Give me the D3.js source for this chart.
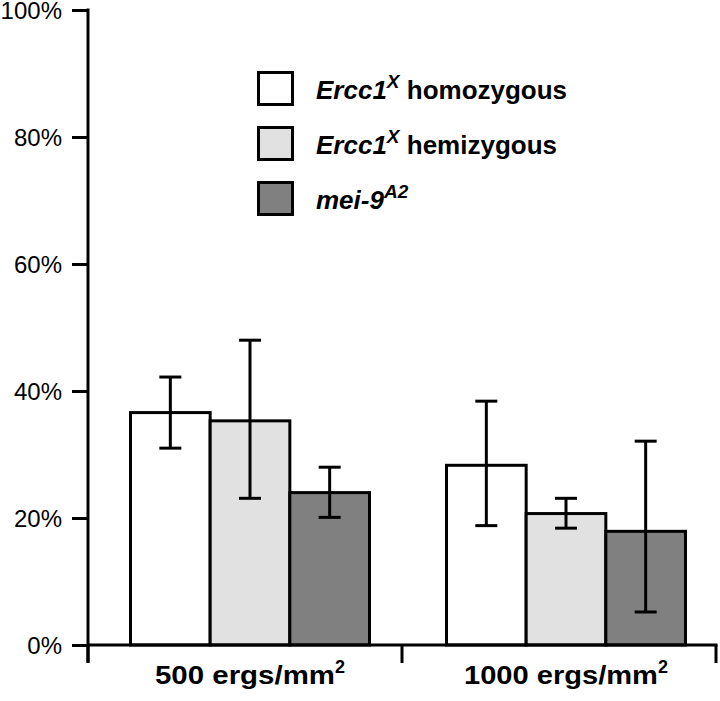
<!DOCTYPE html>
<html><head><meta charset="utf-8">
<script src="https://cdn.jsdelivr.net/npm/d3@7"></script>
<style>body{margin:0;background:#fff}</style>
</head><body>
<svg id="c" width="720" height="701"></svg>
<script>
const categories = ["500", "1000"];
const seriesNames = ["homozygous", "hemizygous", "mei9"];
const seriesColors = ["#ffffff", "#e1e1e1", "#808080"];
const homozygous = [36.6, 28.3];
const homozygousLo = [31.0, 18.8];
const homozygousHi = [42.2, 38.4];
const hemizygous = [35.3, 20.7];
const hemizygousLo = [23.1, 18.4];
const hemizygousHi = [48.0, 23.1];
const mei9 = [24.0, 17.9];
const mei9Lo = [20.1, 5.2];
const mei9Hi = [28.0, 32.1];
const yTicks = [0, 20, 40, 60, 80, 100];

const series = [
  {v: homozygous, lo: homozygousLo, hi: homozygousHi},
  {v: hemizygous, lo: hemizygousLo, hi: hemizygousHi},
  {v: mei9, lo: mei9Lo, hi: mei9Hi}
];

const svg = d3.select("#c");
const y = d3.scaleLinear().domain([0, 100]).range([645, 10]);
const x0 = d3.scaleBand().domain(categories).range([88, 716]);
const groupW = 239;
const x1 = d3.scaleBand().domain(seriesNames).range([0, groupW]);
const groupX = c => x0(c) + (x0.bandwidth() - groupW) / 2 + (c === categories[0] ? 5 : 7);

// bars
categories.forEach((c, ci) => {
  const gx = groupX(c);
  series.forEach((s, si) => {
    const bx = gx + x1(seriesNames[si]);
    svg.append("rect")
      .attr("x", bx).attr("y", y(s.v[ci]))
      .attr("width", x1.bandwidth()).attr("height", y(0) - y(s.v[ci]))
      .attr("fill", seriesColors[si]).attr("stroke", "#000").attr("stroke-width", 3);
  });
});
// error bars
categories.forEach((c, ci) => {
  const gx = groupX(c);
  series.forEach((s, si) => {
    const cx = gx + x1(seriesNames[si]) + x1.bandwidth() / 2;
    const g = svg.append("g").attr("stroke", "#000").attr("stroke-width", 3);
    g.append("line").attr("x1", cx).attr("x2", cx).attr("y1", y(s.hi[ci])).attr("y2", y(s.lo[ci]));
    g.append("line").attr("x1", cx - 11).attr("x2", cx + 11).attr("y1", y(s.hi[ci])).attr("y2", y(s.hi[ci]));
    g.append("line").attr("x1", cx - 11).attr("x2", cx + 11).attr("y1", y(s.lo[ci])).attr("y2", y(s.lo[ci]));
  });
});

// y axis
const yAxis = svg.append("g").attr("transform", "translate(88,0)")
  .call(d3.axisLeft(y).tickValues(yTicks).tickSize(16).tickPadding(10).tickFormat(d => d + "%"));
yAxis.select(".domain").remove();
yAxis.selectAll(".tick line").attr("stroke", "#000").attr("stroke-width", 3);
yAxis.selectAll(".tick text").attr("font-family", "Liberation Sans, Arial, sans-serif")
  .attr("font-size", 24).attr("fill", "#000").attr("dy", "0.36em");
svg.append("line").attr("x1", 88).attr("x2", 88).attr("y1", 8.5).attr("y2", 663)
  .attr("stroke", "#000").attr("stroke-width", 3);

// x axis
svg.append("line").attr("x1", 88).attr("x2", 717.5).attr("y1", y(0)).attr("y2", y(0))
  .attr("stroke", "#000").attr("stroke-width", 3);
const xb = categories.map(c => x0(c)).concat([x0.range()[1]]);
xb.forEach(v => svg.append("line").attr("x1", v).attr("x2", v).attr("y1", y(0)).attr("y2", 663)
  .attr("stroke", "#000").attr("stroke-width", 3));

// x labels
categories.forEach(c => {
  const t = svg.append("text")
    .attr("x", groupX(c) + groupW / 2).attr("y", 684)
    .attr("text-anchor", "middle")
    .attr("font-family", "Liberation Sans Narrow, Arial Narrow, Liberation Sans, sans-serif")
    .attr("font-weight", "bold").attr("font-size", 26).attr("fill", "#000");
  t.append("tspan").text(c + " ergs/mm")
    .attr("textLength", c.length === 3 ? 180 : 194).attr("lengthAdjust", "spacingAndGlyphs");
  t.append("tspan").attr("dy", -11).attr("font-size", 18).text("2");
});

// legend
const legendItems = [
  {main: "Ercc1", sup: "X", rest: " homozygous"},
  {main: "Ercc1", sup: "X", rest: " hemizygous"},
  {main: "mei-9", sup: "A2", rest: ""}
];
legendItems.forEach((it, i) => {
  const ly = 72.5 + i * 55;
  svg.append("rect").attr("x", 258.5).attr("y", ly).attr("width", 34).attr("height", 32)
    .attr("fill", seriesColors[i]).attr("stroke", "#000").attr("stroke-width", 3);
  const t = svg.append("text").attr("x", 316).attr("y", ly + 26)
    .attr("font-family", "Liberation Sans, Arial, sans-serif")
    .attr("font-weight", "bold").attr("font-size", 26).attr("fill", "#000");
  t.append("tspan").attr("font-style", "italic").text(it.main);
  t.append("tspan").attr("font-style", "italic").attr("font-size", 19).attr("dy", -11).text(it.sup);
  if (it.rest) t.append("tspan").attr("dy", 11).text(it.rest);
});
</script>
</body></html>
